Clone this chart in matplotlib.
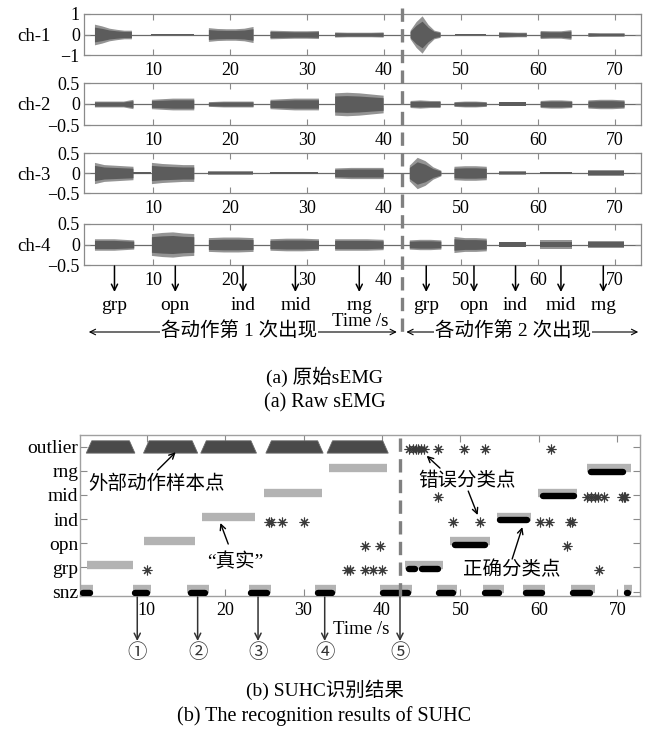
import numpy as np
import matplotlib
matplotlib.use('Agg')
import matplotlib.pyplot as plt
from matplotlib.lines import Line2D
from matplotlib.patches import Polygon, FancyArrowPatch
from matplotlib.transforms import blended_transform_factory

# ---------------- (a) raw sEMG: burst limits (s) and envelope samples
ch1_start = [2.4, 9.8, 17.2, 25.2, 33.6, 43.4, 49.2, 54.9, 60.3, 66.5]
ch1_end = [7.2, 15.3, 23.0, 31.5, 39.9, 47.3, 53.3, 58.5, 64.3, 71.2]
ch1_env = [[0.36, 0.30, 0.22, 0.18, 0.15, 0.15],
           [0.03, 0.03, 0.03],
           [0.24, 0.21, 0.20, 0.20, 0.22, 0.28],
           [0.15, 0.14, 0.13, 0.13, 0.14],
           [0.09, 0.08, 0.08, 0.08, 0.09],
           [0.15, 0.45, 0.65, 0.35, 0.15, 0.10],
           [0.02, 0.02, 0.02],
           [0.10, 0.09, 0.08, 0.08],
           [0.14, 0.13, 0.13, 0.17],
           [0.07, 0.06, 0.06, 0.06]]

ch2_start = [2.4, 9.8, 17.2, 25.2, 33.6, 43.4, 49.1, 54.9, 60.3, 66.5]
ch2_end = [7.4, 15.3, 23.0, 31.5, 39.9, 47.3, 53.3, 58.5, 64.4, 71.2]
ch2_env = [[0.05, 0.05, 0.05, 0.05, 0.08],
           [0.08, 0.09, 0.10, 0.10, 0.10],
           [0.04, 0.05, 0.05, 0.05],
           [0.08, 0.09, 0.10, 0.10, 0.10],
           [0.19, 0.20, 0.19, 0.17, 0.15],
           [0.06, 0.07, 0.06, 0.06],
           [0.04, 0.05, 0.05, 0.04],
           [0.04, 0.04, 0.04, 0.04],
           [0.06, 0.07, 0.07, 0.06],
           [0.07, 0.08, 0.08, 0.07]]

ch3_start = [2.4, 7.4, 9.8, 17.2, 25.2, 33.6, 43.3, 49.1, 54.9, 60.3, 66.5]
ch3_end = [7.4, 9.8, 15.3, 23.0, 31.5, 39.9, 47.4, 53.3, 58.5, 64.4, 71.2]
ch3_env = [[0.19, 0.15, 0.14, 0.13, 0.12],
           [0.02, 0.02],
           [0.19, 0.17, 0.16, 0.15, 0.15],
           [0.03, 0.03, 0.03],
           [0.02, 0.02, 0.02],
           [0.09, 0.10, 0.10, 0.10],
           [0.14, 0.28, 0.22, 0.11, 0.05],
           [0.12, 0.13, 0.13, 0.12],
           [0.03, 0.03, 0.03],
           [0.02, 0.02, 0.02],
           [0.06, 0.06, 0.06]]

ch4_start = [2.4, 9.8, 17.2, 25.2, 33.6, 43.3, 49.1, 54.9, 60.3, 66.5]
ch4_end = [7.5, 15.3, 23.0, 31.5, 39.9, 47.4, 53.3, 58.5, 64.4, 71.2]
ch4_env = [[0.10, 0.10, 0.10, 0.09, 0.08],
           [0.19, 0.21, 0.22, 0.20, 0.19],
           [0.12, 0.13, 0.13, 0.12],
           [0.10, 0.11, 0.11, 0.10],
           [0.10, 0.10, 0.10, 0.09],
           [0.08, 0.09, 0.09, 0.08],
           [0.14, 0.12, 0.12, 0.11],
           [0.05, 0.05, 0.05, 0.05],
           [0.07, 0.07, 0.07, 0.07],
           [0.06, 0.06, 0.06, 0.06]]

channels = ['ch-1', 'ch-2', 'ch-3', 'ch-4']
ch_lim = [1.0, 0.5, 0.5, 0.5]
ch_ticklabels = [['\u22121', '0', '1'], ['\u22120.5', '0', '0.5'],
                 ['\u22120.5', '0', '0.5'], ['\u22120.5', '0', '0.5']]
x_ticks = [10, 20, 30, 40, 50, 60, 70]

motion_x = [5.0, 12.9, 21.7, 28.5, 36.8, 45.5, 51.7, 57.1, 63.0, 68.5]
motion_label = ['grp', 'opn', 'ind', 'mid', 'rng', 'grp', 'opn', 'ind', 'mid', 'rng']
split_time = 42.3

# ---------------- (b) SUHC recognition results
categories = ['snz', 'grp', 'opn', 'ind', 'mid', 'rng', 'outlier']
true_start = [2.4, 9.6, 17.0, 25.0, 33.2, 43.0, 48.7, 54.7, 59.9, 66.1,
              1.6, 8.2, 15.2, 23.0, 31.4, 39.8, 47.0, 52.9, 58.0, 64.1, 70.9]
true_end = [8.3, 16.1, 23.8, 32.3, 40.7, 47.8, 53.8, 59.0, 64.9, 71.7,
            3.2, 10.6, 17.9, 25.9, 34.1, 43.8, 49.6, 55.5, 60.8, 67.1, 71.9]
true_label = ['grp', 'opn', 'ind', 'mid', 'rng', 'grp', 'opn', 'ind', 'mid', 'rng'] + ['snz'] * 11

pred_start = [43.4, 45.1, 49.3, 55.0, 60.5, 66.6,
              1.9, 8.5, 15.6, 23.3, 31.8, 40.1, 47.3, 53.2, 58.4, 64.4, 71.2]
pred_end = [44.2, 47.2, 53.1, 58.5, 64.5, 70.7,
            2.8, 10.1, 17.5, 25.4, 33.6, 43.3, 49.1, 54.9, 60.4, 66.5, 71.4]
pred_label = ['grp', 'grp', 'opn', 'ind', 'mid', 'rng'] + ['snz'] * 11

outlier_start = [2.3, 9.6, 16.9, 25.2, 33.0]
outlier_end = [8.5, 16.5, 24.0, 32.5, 40.8]

err_x = [43.4, 44.0, 44.3, 44.6, 45.0, 45.3, 47.2, 50.4, 53.2, 61.5,
         47.2, 66.1, 66.7, 67.1, 67.6, 68.3, 70.6, 70.8, 71.0,
         25.6, 25.8, 27.3, 30.0, 49.1, 52.5, 60.2, 61.3, 64.0, 64.2,
         37.9, 39.8, 63.6,
         10.1, 35.5, 35.9, 37.9, 38.9, 40.0, 67.7]
err_label = ['outlier'] * 10 + ['mid'] * 9 + ['ind'] * 10 + ['opn'] * 3 + ['grp'] * 7
arrow_x = [8.8, 16.5, 24.2, 32.7, 42.3]
arrow_label = ['\u2460', '\u2461', '\u2462', '\u2463', '\u2464']

# ---------------- figure helpers
plt.rcParams['font.family'] = ['Liberation Serif', 'Noto Sans CJK SC']
plt.rcParams['axes.unicode_minus'] = True
W, H = 649, 730
fig = plt.figure(figsize=(W / 100, H / 100), dpi=100)


def fx(px):
    return px / W


def fy(py):
    return 1 - py / H


def rect(l, t, r, b):
    return [fx(l), fy(b), fx(r) - fx(l), fy(t) - fy(b)]


SPINE = '#8a8a8a'
GREY_DASH = '#808080'

# ---------------- (a) top panels
panel_px = [(14, 55), (83, 125), (153, 193), (224, 265)]
all_start = [ch1_start, ch2_start, ch3_start, ch4_start]
all_end = [ch1_end, ch2_end, ch3_end, ch4_end]
all_env = [ch1_env, ch2_env, ch3_env, ch4_env]
top_axes = []
for i in range(4):
    t, b = panel_px[i]
    ax = fig.add_axes(rect(84, t, 641, b))
    lim = ch_lim[i]
    ax.set_xlim(1.04, 73.4)
    ax.set_ylim(-lim, lim)
    ax.axhline(0, color='#6a6a6a', lw=0.9, zorder=1)
    for s, e, env in zip(all_start[i], all_end[i], all_env[i]):
        tt = np.linspace(s, e, len(env))
        a = np.array(env)
        ax.fill_between(tt, -a * 1.4, a * 1.4, color='#949494', lw=0, zorder=2)
        ax.fill_between(tt, -a, a, color='#5c5c5c', lw=0, zorder=3)
    ax.set_xticks(x_ticks)
    ax.set_yticks([-lim, 0, lim])
    ax.set_yticklabels(ch_ticklabels[i])
    ax.tick_params(direction='in', top=True, right=True, length=4, width=0.8,
                   color=SPINE, labelsize=13, pad=3)
    ax.tick_params(axis='x', pad=5)
    for sp in ax.spines.values():
        sp.set_color(SPINE)
        sp.set_linewidth(0.9)
    zero_py = (t + b) / 2
    fig.text(fx(34), fy(zero_py + 2), channels[i], fontsize=13.5, ha='center', va='center')
    top_axes.append(ax)

ax4 = top_axes[3]
tr4 = blended_transform_factory(ax4.transData, fig.transFigure)
for xm, lab in zip(motion_x, motion_label):
    ax4.annotate('', xy=(xm, fy(292)), xycoords=tr4, xytext=(xm, fy(266)), textcoords=tr4,
                 arrowprops=dict(arrowstyle='->', color='black', lw=1.1,
                                 mutation_scale=11, shrinkA=0, shrinkB=0),
                 annotation_clip=False)
    ax4.text(xm, fy(305), lab, transform=tr4, ha='center', va='center', fontsize=14)

# double headed arrows + texts
xsplit_px = 84 + (split_time - 1.04) / (73.4 - 1.04) * (641 - 84)
fig.add_artist(FancyArrowPatch(
    (fx(86), fy(332)), (fx(xsplit_px - 2), fy(332)), transform=fig.transFigure,
    arrowstyle='<->', mutation_scale=10, lw=0.8, color='black'))
fig.add_artist(FancyArrowPatch(
    (fx(xsplit_px + 2), fy(332)), (fx(641), fy(332)), transform=fig.transFigure,
    arrowstyle='<->', mutation_scale=10, lw=0.8, color='black'))
fig.text(fx(239), fy(331), '各动作第 1 次出现', ha='center', va='center', fontsize=14,
         bbox=dict(facecolor='white', edgecolor='none', pad=1))
fig.text(fx(513), fy(331), '各动作第 2 次出现', ha='center', va='center', fontsize=14,
         bbox=dict(facecolor='white', edgecolor='none', pad=1))
fig.text(fx(360), fy(321), 'Time /s', ha='center', va='center', fontsize=13.5)

# dashed split line across the top panels
fig.add_artist(Line2D([fx(xsplit_px), fx(xsplit_px)], [fy(8), fy(338)],
                      transform=fig.transFigure, color=GREY_DASH, lw=2.4,
                      dashes=(4, 2.2), zorder=10))

fig.text(0.5, fy(377), '(a) 原始sEMG', ha='center', va='center', fontsize=14)
fig.text(0.5, fy(403), '(a) Raw sEMG', ha='center', va='center', fontsize=14.5)

# ---------------- (b) bottom panel
axb = fig.add_axes(rect(80, 435, 640, 596))
axb.set_xlim(1.5, 72.9)
axb.set_ylim(-0.18, 6.48)
cat_y = {c: k for k, c in enumerate(categories)}

for s, e, lab in zip(true_start, true_end, true_label):
    y = cat_y[lab] + 0.1
    axb.plot([s, e], [y, y], color='#b3b3b3', lw=6, solid_capstyle='butt', zorder=2)
for s, e, lab in zip(pred_start, pred_end, pred_label):
    y = cat_y[lab] - 0.05
    axb.plot([s, e], [y, y], color='black', lw=4.6, solid_capstyle='round', zorder=3)
for s, e in zip(outlier_start, outlier_end):
    yb, yt = cat_y['outlier'] - 0.27, cat_y['outlier'] + 0.24
    axb.add_patch(Polygon([(s, yb), (e, yb), (e - 0.7, yt), (s + 0.7, yt)], closed=True,
                          facecolor='#4a4a4a', edgecolor='#6a6a6a', lw=0.6, zorder=3))
axb.plot(err_x, [cat_y[c] - 0.1 for c in err_label], ls='none', marker=(8, 2, 0),
         ms=7, mec='#3a3a3a', mew=0.8, zorder=4)

axb.axvline(split_time, color=GREY_DASH, lw=2.4, dashes=(4, 2.2), zorder=5)

axb.set_xticks(x_ticks)
axb.set_yticks(range(len(categories)))
axb.set_yticklabels(categories)
axb.tick_params(direction='in', top=True, right=True, length=5, width=0.8,
                color=SPINE, labelsize=13, pad=4)
axb.tick_params(axis='y', labelsize=14, pad=1)
for sp in axb.spines.values():
    sp.set_color('#a0a0a0')
    sp.set_linewidth(1.0)

akw = dict(arrowstyle='->', color='black', lw=1.0, mutation_scale=10, shrinkA=0, shrinkB=0)
axb.text(2.6, 4.45, '外部动作样本点', fontsize=14, ha='left', va='center')
axb.annotate('', xy=(13.7, 5.77), xytext=(11.4, 5.03), arrowprops=akw)
axb.text(21.3, 1.22, '\u201c真实\u201d', fontsize=14, ha='center', va='center')
axb.annotate('', xy=(19.4, 2.84), xytext=(20.4, 1.97), arrowprops=akw)
axb.text(50.8, 4.57, '错误分类点', fontsize=14, ha='center', va='center')
axb.annotate('', xy=(45.7, 5.62), xytext=(47.4, 5.11), arrowprops=akw)
axb.annotate('', xy=(52.2, 3.17), xytext=(51.0, 4.16), arrowprops=akw)
axb.text(56.5, 0.9, '正确分类点', fontsize=14, ha='center', va='center')
axb.annotate('', xy=(57.9, 2.67), xytext=(56.6, 1.35), arrowprops=akw)

trb = blended_transform_factory(axb.transData, fig.transFigure)
for xa, lab in zip(arrow_x, arrow_label):
    axb.annotate('', xy=(xa, fy(641)), xycoords=trb, xytext=(xa, fy(597)), textcoords=trb,
                 arrowprops=dict(arrowstyle='->', color='#333333', lw=1.1,
                                 mutation_scale=11, shrinkA=0, shrinkB=0),
                 annotation_clip=False)
    axb.text(xa, fy(652), lab, transform=trb, ha='center', va='center', fontsize=14,
             family=['Noto Sans CJK SC', 'DejaVu Sans'], color='#333333')
fig.text(fx(361), fy(630), 'Time /s', ha='center', va='center', fontsize=13.5)

fig.text(0.5, fy(690), '(b) SUHC识别结果', ha='center', va='center', fontsize=14)
fig.text(0.5, fy(716), '(b) The recognition results of SUHC', ha='center', va='center', fontsize=14.5)

fig.save = None
fig.savefig('out.png', dpi=100)
